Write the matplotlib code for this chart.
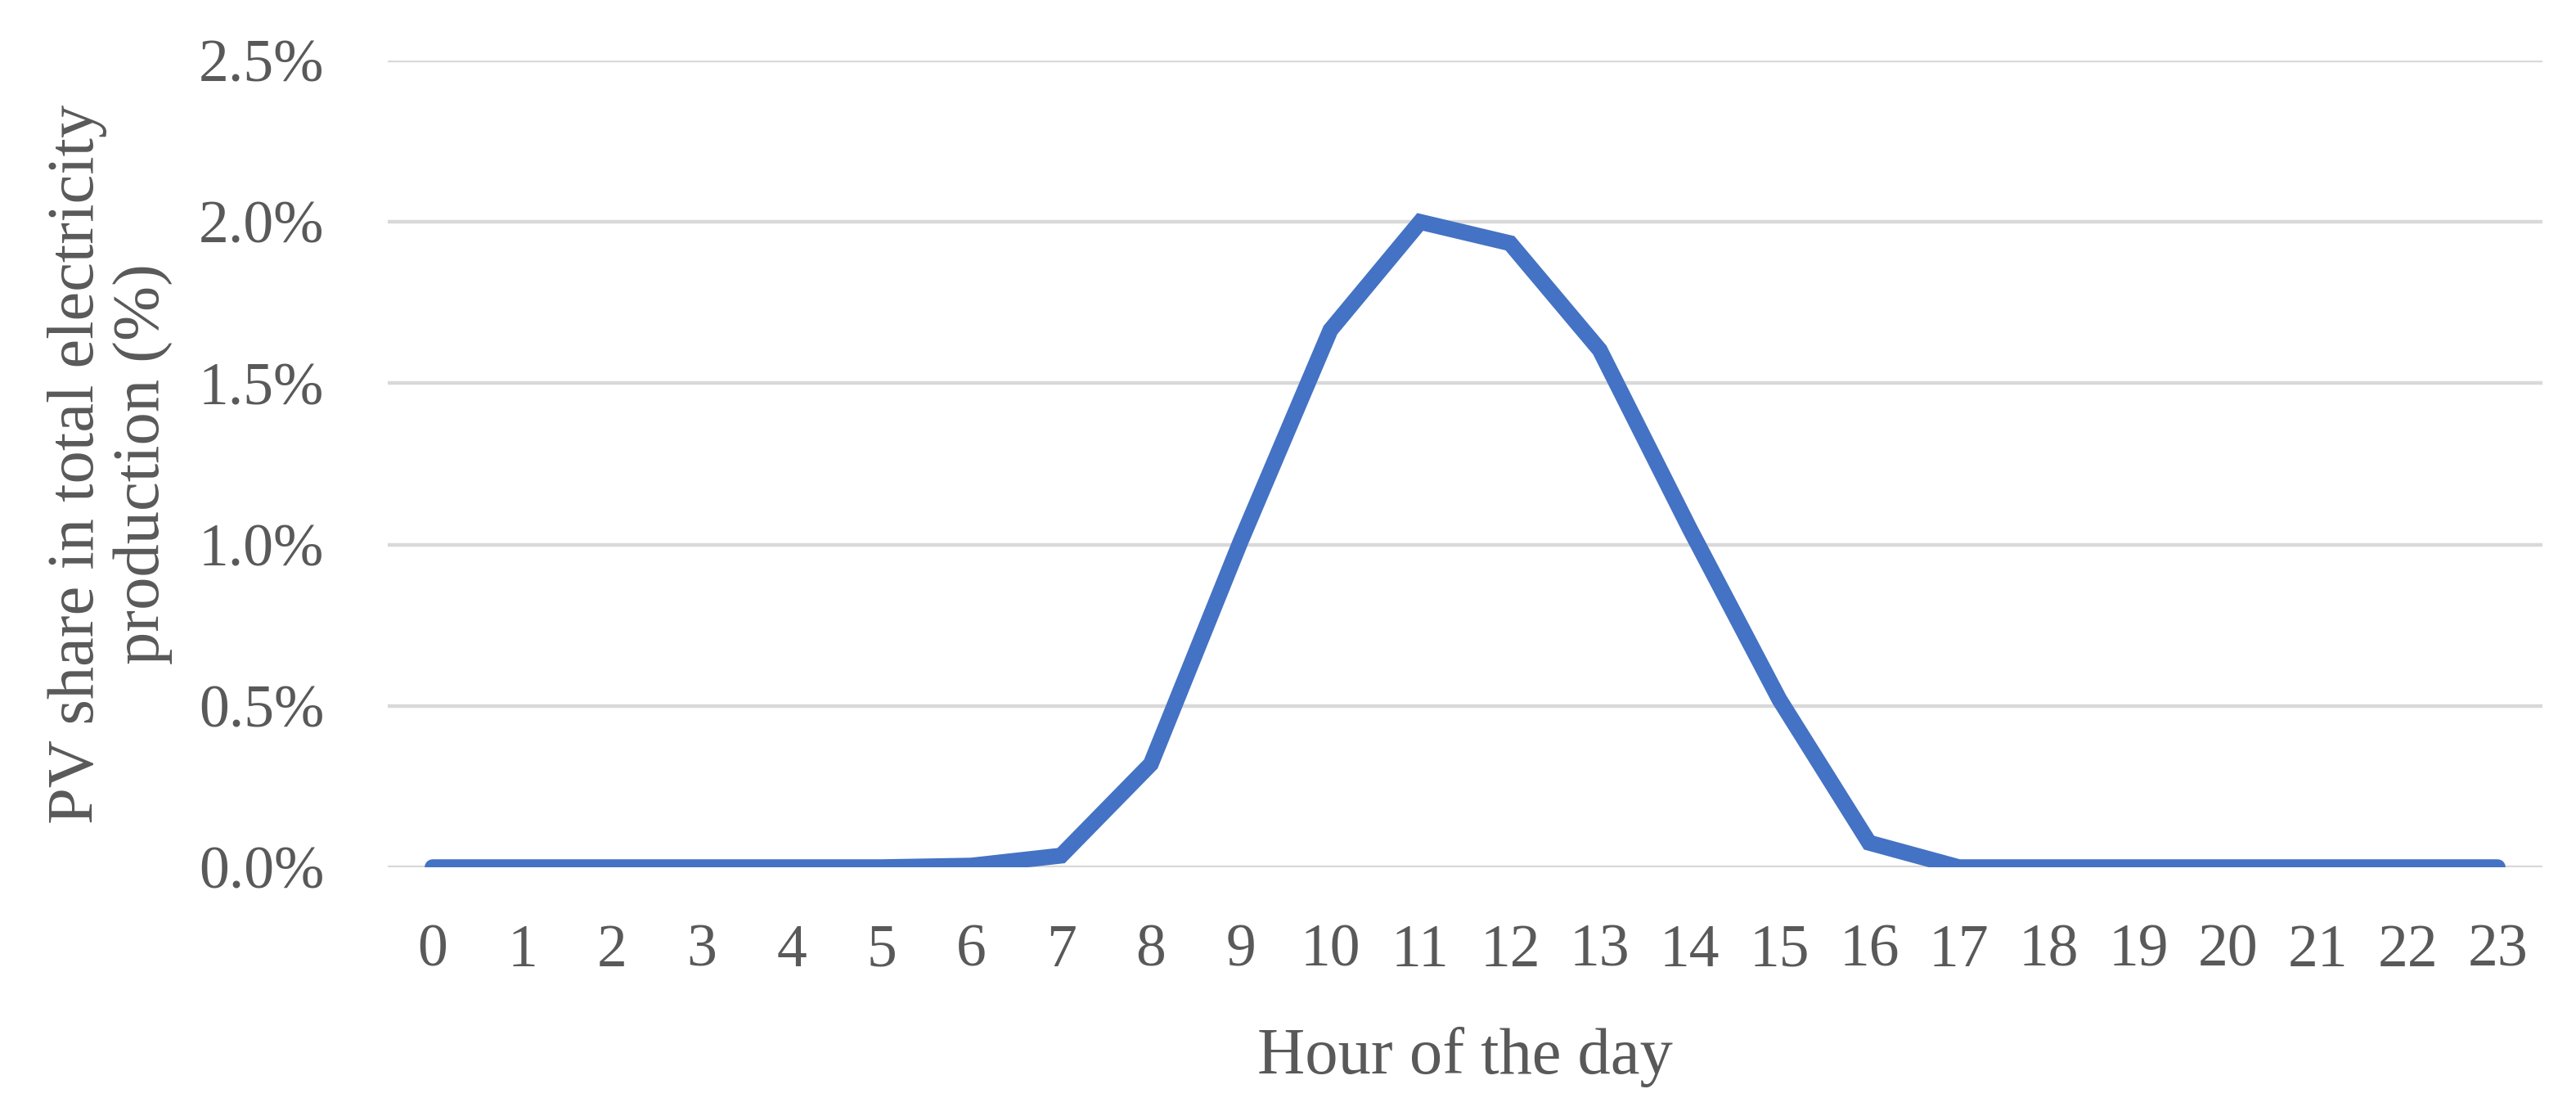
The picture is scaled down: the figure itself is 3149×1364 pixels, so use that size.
import matplotlib.pyplot as plt
from matplotlib.ticker import FuncFormatter

hours = list(range(24))
pv_share = [0.0, 0.0, 0.0, 0.0, 0.0, 0.0, 0.005, 0.036, 0.32, 1.01, 1.665, 2.0,
            1.934, 1.603, 1.05, 0.52, 0.076, 0.0, 0.0, 0.0, 0.0, 0.0, 0.0, 0.0]
y_ticks = [0.0, 0.5, 1.0, 1.5, 2.0, 2.5]

text_col = '#595959'
plt.rcParams['font.family'] = ['Liberation Serif', 'DejaVu Serif']

fig = plt.figure(figsize=(31.49, 13.64), dpi=100)
ax = fig.add_axes([0.1505, 0.2229, 0.8365, 0.7228])

ax.plot(hours, pv_share, color='#4472C4', linewidth=14, solid_capstyle='round',
        solid_joinstyle='miter', zorder=3)

ax.set_xlim(-0.5, 23.5)
ax.set_ylim(0, 2.5)
ax.set_yticks(y_ticks)
ax.yaxis.set_major_formatter(FuncFormatter(lambda v, p: f'{v:.1f}%'))
ax.set_xticks(hours)
ax.set_xticklabels([str(h) for h in hours])

ax.grid(axis='y', color='#D9D9D9', linewidth=3.2, zorder=1)
ax.set_axisbelow(True)
for s in ax.spines.values():
    s.set_visible(False)
ax.tick_params(axis='both', length=0, labelsize=53, colors=text_col)
ax.tick_params(axis='x', pad=50)
ax.tick_params(axis='y', pad=56)

ax.set_xlabel('Hour of the day', fontsize=58, color=text_col, labelpad=42)
ax.set_ylabel('PV share in total electricity\nproduction (%)', fontsize=58,
              color=text_col, labelpad=22, linespacing=1.15)

fig.savefig('out.png', dpi=100)
